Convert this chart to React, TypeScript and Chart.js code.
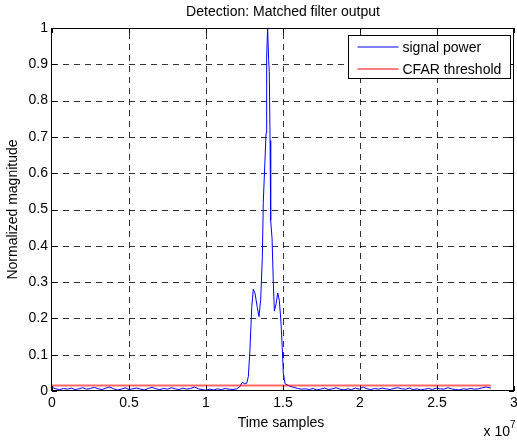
import React, { useEffect, useRef } from 'react';
import { Chart, registerables } from 'chart.js';

Chart.register(...registerables);

const FONT = '"Liberation Sans", Arial, Helvetica, sans-serif';

const titleText = 'Detection: Matched filter output';
const xTitle = 'Time samples';
const yTitle = 'Normalized magnitude';
const legendLabels = ['signal power', 'CFAR threshold'];

const xTicks = [0, 0.5e7, 1e7, 1.5e7, 2e7, 2.5e7, 3e7];
const xTickLabels = ['0', '0.5', '1', '1.5', '2', '2.5', '3'];
const yTicks = [0, 0.1, 0.2, 0.3, 0.4, 0.5, 0.6, 0.7, 0.8, 0.9, 1];
const yTickLabels = ['0', '0.1', '0.2', '0.3', '0.4', '0.5', '0.6', '0.7', '0.8', '0.9', '1'];

// time in units of 1e5 samples, normalized magnitude
const noiseBefore: [number, number][] = [
  [0, 0.010], [2.5, 0.006], [5, 0.004], [7.5, 0.007], [10, 0.005], [12.5, 0.008],
  [15, 0.004], [17.5, 0.006], [20, 0.009], [22.5, 0.005], [25, 0.007], [27.5, 0.010],
  [30, 0.006], [32.5, 0.004], [35, 0.008], [37.5, 0.011], [40, 0.006], [42.5, 0.003],
  [45, 0.005], [47.5, 0.009], [50, 0.004], [52.5, 0.006], [55, 0.008], [57.5, 0.005],
  [60, 0.003], [62.5, 0.007], [65, 0.010], [67.5, 0.006], [70, 0.004], [72.5, 0.007],
  [75, 0.005], [77.5, 0.009], [80, 0.006], [82.5, 0.004], [85, 0.008], [87.5, 0.005],
  [90, 0.007], [92.5, 0.011], [95, 0.006], [97.5, 0.004], [100, 0.002], [102.5, 0.005],
  [105, 0.003], [107.5, 0.006], [110, 0.004], [112.5, 0.007], [115, 0.005], [117.5, 0.004],
];

const pulse: [number, number][] = [
  [120, 0.006], [122, 0.012], [123.5, 0.024], [125, 0.020], [126.5, 0.022], [127.5, 0.040],
  [128.5, 0.110], [129.7, 0.230], [130.7, 0.280], [131.8, 0.270], [133.3, 0.230], [134.4, 0.205],
  [135.5, 0.250], [136.6, 0.370], [137.2, 0.520], [139.0, 0.710], [139.4, 0.920], [140.0, 1.000],
  [140.7, 0.910], [141.1, 0.880], [141.6, 0.690], [142.0, 0.470], [142.9, 0.420], [143.7, 0.300],
  [144.4, 0.220], [145.5, 0.240], [146.6, 0.270], [147.6, 0.250], [148.7, 0.190], [149.5, 0.120],
  [150.2, 0.050], [151.3, 0.020], [154.5, 0.013],
];

const noiseAfter: [number, number][] = [
  [157, 0.010], [159.5, 0.007], [162, 0.005], [164.5, 0.006], [167, 0.004], [169.5, 0.007],
  [172, 0.003], [174.5, 0.005], [177, 0.008], [179.5, 0.004], [182, 0.006], [184.5, 0.009],
  [187, 0.005], [189.5, 0.003], [192, 0.006], [194.5, 0.004], [197, 0.008], [199.5, 0.005],
  [202, 0.011], [204.5, 0.006], [207, 0.004], [209.5, 0.007], [212, 0.005], [214.5, 0.008],
  [217, 0.006], [219.5, 0.004], [222, 0.007], [224.5, 0.009], [227, 0.006], [229.5, 0.005],
  [232, 0.008], [234.5, 0.004], [237, 0.006], [239.5, 0.003], [242, 0.005], [244.5, 0.007],
  [247, 0.004], [249.5, 0.008], [252, 0.006], [254.5, 0.005], [257, 0.009], [259.5, 0.006],
  [262, 0.004], [264.5, 0.003], [267, 0.006], [269.5, 0.005], [272, 0.007], [274.5, 0.005],
  [277, 0.006], [279.5, 0.009], [282, 0.011], [285, 0.008],
];

const cfarLevel: [number, number][] = [
  [0, 0.015], [285, 0.015],
];

const TIME_UNIT = 1e5;

const colors = { signal: '#0000ff', cfar: '#ff0000' };

const FS = 14;

const decorPlugin = {
  id: 'matlabDecor',
  beforeDatasetsDraw(chart: any) {
    const { ctx, chartArea } = chart;
    const xs = chart.scales.x;
    const ys = chart.scales.y;
    const L = Math.round(chartArea.left), R = Math.round(chartArea.right);
    const T = Math.round(chartArea.top), B = Math.round(chartArea.bottom);
    ctx.save();
    ctx.strokeStyle = 'rgba(0,0,0,0.8)';
    ctx.lineWidth = 1;
    ctx.setLineDash([6, 5]);
    xTicks.forEach((v) => {
      if (v <= 0 || v >= 3e7) return;
      const px = Math.round(xs.getPixelForValue(v)) + 0.5;
      ctx.beginPath();
      ctx.moveTo(px, B);
      ctx.lineTo(px, T);
      ctx.stroke();
    });
    yTicks.forEach((v) => {
      if (v <= 0 || v >= 1) return;
      const py = Math.round(ys.getPixelForValue(v)) + 0.5;
      ctx.beginPath();
      ctx.moveTo(L, py);
      ctx.lineTo(R, py);
      ctx.stroke();
    });
    ctx.restore();
  },
  afterDraw(chart: any) {
    const { ctx, chartArea } = chart;
    const xs = chart.scales.x;
    const ys = chart.scales.y;
    const L = Math.round(chartArea.left), R = Math.round(chartArea.right);
    const T = Math.round(chartArea.top), B = Math.round(chartArea.bottom);
    ctx.save();
    ctx.setLineDash([]);
    ctx.strokeStyle = '#000';
    ctx.lineWidth = 1;
    // axes box
    ctx.strokeRect(L - 0.5, T + 0.5, R - L, B - T - 1);
    // inside ticks
    const tl = 5;
    ctx.beginPath();
    xTicks.forEach((v) => {
      const px = Math.round(xs.getPixelForValue(v)) + 0.5;
      ctx.moveTo(px, B); ctx.lineTo(px, B - tl);
      ctx.moveTo(px, T); ctx.lineTo(px, T + tl);
    });
    yTicks.forEach((v) => {
      const py = Math.round(ys.getPixelForValue(v)) + 0.5;
      ctx.moveTo(L, py); ctx.lineTo(L + tl, py);
      ctx.moveTo(R, py); ctx.lineTo(R - tl, py);
    });
    ctx.stroke();

    // legend
    const lx = R - 165.5, ly = T + 7.5, lw = 162, lh = 43;
    ctx.fillStyle = '#fff';
    ctx.fillRect(lx, ly, lw, lh);
    ctx.strokeRect(lx, ly, lw, lh);
    const rows = [
      { c: colors.signal, t: legendLabels[0], y: T + 19 },
      { c: colors.cfar, t: legendLabels[1], y: T + 41 },
    ];
    ctx.font = `${FS}px ${FONT}`;
    ctx.textBaseline = 'middle';
    ctx.textAlign = 'left';
    rows.forEach((r) => {
      ctx.strokeStyle = r.c;
      ctx.lineWidth = 1;
      ctx.beginPath();
      ctx.moveTo(lx + 9, r.y);
      ctx.lineTo(lx + 50, r.y);
      ctx.stroke();
      ctx.fillStyle = '#000';
      ctx.fillText(r.t, lx + 54, r.y + 1);
    });

    // titles
    const cx = (L + R) / 2;
    ctx.fillStyle = '#000';
    ctx.textAlign = 'center';
    ctx.textBaseline = 'middle';
    ctx.fillText(titleText, cx, 12);
    ctx.fillText(xTitle, cx - 2, 423);
    ctx.save();
    ctx.translate(13, (T + B) / 2);
    ctx.rotate(-Math.PI / 2);
    ctx.fillText(yTitle, 0, 0);
    ctx.restore();
    // exponent
    ctx.textAlign = 'right';
    ctx.textBaseline = 'alphabetic';
    ctx.fillText('x 10', 510, 436);
    ctx.font = `10px ${FONT}`;
    ctx.textAlign = 'left';
    ctx.fillText('7', 510, 428);
    ctx.restore();
  },
};

export default function App() {
  const ref = useRef<HTMLCanvasElement | null>(null);
  useEffect(() => {
    if (!ref.current) return;
    const toPts = (arr: [number, number][]) => arr.map(([t, v]) => ({ x: t * TIME_UNIT, y: v }));
    const signal = [...toPts(noiseBefore), ...toPts(pulse), ...toPts(noiseAfter)];
    const cfar = toPts(cfarLevel);
    const chart = new Chart(ref.current, {
      type: 'line',
      data: {
        datasets: [
          {
            label: legendLabels[0], data: signal, borderColor: colors.signal, borderWidth: 1,
            pointRadius: 0, tension: 0, order: 1, fill: false,
          },
          {
            label: legendLabels[1], data: cfar, borderColor: 'rgba(255,0,0,0.6)', borderWidth: 2,
            pointRadius: 0, tension: 0, order: 0, fill: false,
          },
        ],
      },
      options: {
        responsive: false,
        animation: false,
        events: [],
        layout: { padding: { left: 8, right: 3, top: 28, bottom: 0 } },
        plugins: {
          legend: { display: false },
          title: { display: false },
          tooltip: { enabled: false },
        },
        scales: {
          x: {
            type: 'linear',
            min: 0,
            max: 3e7,
            afterBuildTicks: (s: any) => { s.ticks = xTicks.map((v) => ({ value: v })); },
            afterFit: (s: any) => { s.height = 50; s.paddingLeft = 0; s.paddingRight = 0; },
            ticks: {
              autoSkip: false,
              maxRotation: 0,
              padding: 4,
              color: '#000',
              font: { family: FONT, size: FS },
              callback: (_v: any, i: number) => xTickLabels[i],
            },
            grid: { display: false, drawTicks: false },
            border: { display: false },
          },
          y: {
            type: 'linear',
            min: 0,
            max: 1,
            afterBuildTicks: (s: any) => { s.ticks = yTicks.map((v) => ({ value: v })); },
            afterFit: (s: any) => { s.width = 44; s.paddingTop = 0; s.paddingBottom = 0; },
            ticks: {
              autoSkip: false,
              padding: 4,
              color: '#000',
              font: { family: FONT, size: FS },
              callback: (_v: any, i: number) => yTickLabels[i],
            },
            grid: { display: false, drawTicks: false },
            border: { display: false },
          },
        },
      } as any,
      plugins: [decorPlugin],
    });
    return () => chart.destroy();
  }, []);
  return (
    <div style={{ position: 'absolute', left: 0, top: 0, width: 517, height: 441, background: '#fff' }}>
      <canvas ref={ref} width={517} height={441} style={{ display: 'block' }} />
    </div>
  );
}
